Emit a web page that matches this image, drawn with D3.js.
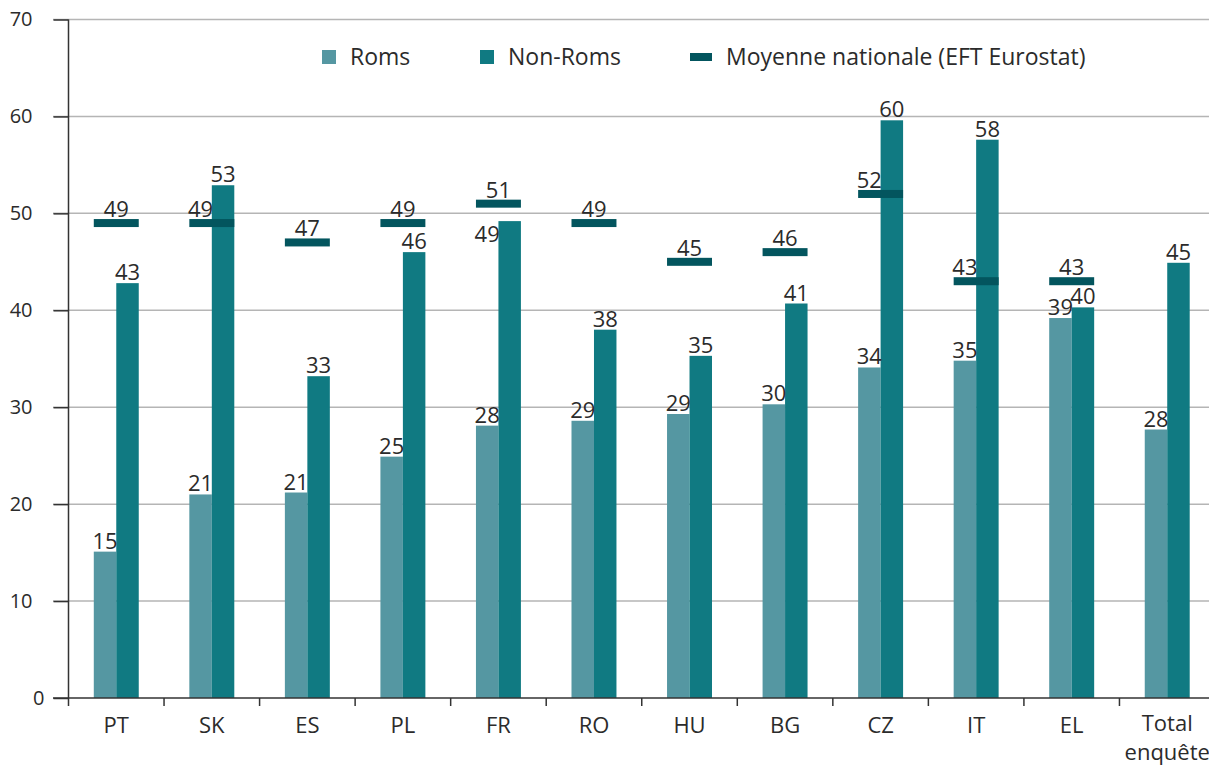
<!DOCTYPE html>
<html>
<head>
<meta charset="utf-8">
<script src="https://cdn.jsdelivr.net/npm/d3@7"></script>
<style>
  body { margin: 0; background: #fff; }
  svg text { font-family: "Open Sans", "Noto Sans", sans-serif; fill: #2b2b2b; }
</style>
</head>
<body>
<div id="wrapper"></div>
<script>
const categories = ["PT", "SK", "ES", "PL", "FR", "RO", "HU", "BG", "CZ", "IT", "EL", "Total enquête"];
const roms = [15.1, 21.0, 21.2, 24.9, 28.1, 28.6, 29.3, 30.3, 34.1, 34.8, 39.2, 27.7];
const nonRoms = [42.8, 52.9, 33.2, 46.0, 49.2, 38.0, 35.3, 40.7, 59.6, 57.6, 40.3, 44.9];
const moyenne = [49, 49, 47, 49, 51, 49, 45, 46, 52, 43, 43, null];
const yTicks = [0, 10, 20, 30, 40, 50, 60, 70];

// label placement tweaks (where the original moved a label aside)
const moyLabelOnRoms = ["SK", "CZ", "IT"];
const nonRomsLabelAside = ["FR"];

const colRoms = "#5597a2";
const colNonRoms = "#107a82";
const colMoy = "#03555e";

const dimension = { width: 1209, height: 765 };
const margin = { left: 68.5, right: -6, top: 19.5, bottom: 67 };

const svg = d3.select("#wrapper").append("svg")
  .attr("width", dimension.width)
  .attr("height", dimension.height);

const scaleY = d3.scaleLinear()
  .domain([0, 70])
  .range([dimension.height - margin.bottom, margin.top]);

const scaleX = d3.scaleBand()
  .domain(categories)
  .range([margin.left, dimension.width - margin.right])
  .padding(0);

const inner = d3.scaleBand()
  .domain(["roms", "nonRoms"])
  .range([0, scaleX.bandwidth()])
  .paddingInner(0)
  .paddingOuter(1.125);

// gridlines
svg.append("g")
  .selectAll("line")
  .data(yTicks.filter(d => d > 0))
  .join("line")
  .attr("x1", 53)
  .attr("x2", dimension.width)
  .attr("y1", d => scaleY(d))
  .attr("y2", d => scaleY(d))
  .attr("stroke", "#b5b5b5")
  .attr("stroke-width", 1.5);

// y axis
const yAxis = svg.append("g")
  .attr("transform", `translate(${margin.left},0)`)
  .call(d3.axisLeft(scaleY).tickValues(yTicks).tickSize(15).tickPadding(0));
yAxis.select(".domain").remove();
yAxis.selectAll(".tick line").attr("stroke", "#333").attr("stroke-width", 1.5);
yAxis.selectAll(".tick text")
  .attr("x", d => d === 0 ? -24 : -36)
  .attr("font-size", 20)
  .attr("fill", "#2b2b2b");

svg.append("line")
  .attr("x1", margin.left).attr("x2", margin.left)
  .attr("y1", scaleY(70)).attr("y2", scaleY(0) + 8)
  .attr("stroke", "#333").attr("stroke-width", 1.5);

// bars
const groups = svg.append("g")
  .selectAll("g")
  .data(categories)
  .join("g")
  .attr("transform", d => `translate(${scaleX(d)},0)`);

groups.append("rect")
  .attr("x", inner("roms"))
  .attr("width", inner.bandwidth())
  .attr("y", (d, i) => scaleY(roms[i]))
  .attr("height", (d, i) => scaleY(0) - scaleY(roms[i]))
  .attr("fill", colRoms);

groups.append("rect")
  .attr("x", inner("nonRoms"))
  .attr("width", inner.bandwidth())
  .attr("y", (d, i) => scaleY(nonRoms[i]))
  .attr("height", (d, i) => scaleY(0) - scaleY(nonRoms[i]))
  .attr("fill", colNonRoms);

// moyenne nationale markers
const moyGroups = groups.filter((d, i) => moyenne[i] != null);
moyGroups.append("rect")
  .attr("x", inner("roms"))
  .attr("width", inner.bandwidth() * 2)
  .attr("y", d => scaleY(moyenne[categories.indexOf(d)]) - 4)
  .attr("height", 8)
  .attr("fill", colMoy);

// x axis
const xAxisY = scaleY(0);
svg.append("line")
  .attr("x1", 53).attr("x2", dimension.width)
  .attr("y1", xAxisY).attr("y2", xAxisY)
  .attr("stroke", "#333").attr("stroke-width", 1.5);

svg.append("g")
  .selectAll("line")
  .data(categories.slice(1))
  .join("line")
  .attr("x1", d => scaleX(d)).attr("x2", d => scaleX(d))
  .attr("y1", xAxisY).attr("y2", xAxisY + 8)
  .attr("stroke", "#333").attr("stroke-width", 1.5);

const xLabels = svg.append("g")
  .selectAll("text")
  .data(categories)
  .join("text")
  .attr("x", d => scaleX(d) + scaleX.bandwidth() / 2)
  .attr("y", xAxisY + 35)
  .attr("text-anchor", "middle")
  .attr("font-size", 22);
xLabels.each(function(d) {
  const parts = d.split(" ");
  const t = d3.select(this);
  if (parts.length > 1) t.attr("y", xAxisY + 33);
  parts.forEach((p, k) => {
    t.append("tspan")
      .attr("x", scaleX(d) + scaleX.bandwidth() / 2)
      .attr("dy", k === 0 ? 0 : 29)
      .text(p);
  });
});

// value labels
const labelSize = 22;
groups.append("text")
  .attr("x", inner("roms") + inner.bandwidth() / 2)
  .attr("y", (d, i) => scaleY(roms[i]) - 3)
  .attr("text-anchor", "middle")
  .attr("font-size", labelSize)
  .text((d, i) => Math.round(roms[i]));

groups.append("text")
  .attr("x", d => nonRomsLabelAside.includes(d)
    ? inner("roms") + inner.bandwidth() / 2
    : inner("nonRoms") + inner.bandwidth() / 2)
  .attr("y", (d, i) => nonRomsLabelAside.includes(d)
    ? scaleY(nonRoms[i]) + 21
    : scaleY(nonRoms[i]) - 3)
  .attr("text-anchor", "middle")
  .attr("font-size", labelSize)
  .text((d, i) => Math.round(nonRoms[i]));

moyGroups.append("text")
  .attr("x", d => moyLabelOnRoms.includes(d)
    ? inner("roms") + inner.bandwidth() / 2
    : inner("roms") + inner.bandwidth())
  .attr("y", d => scaleY(moyenne[categories.indexOf(d)]) - 6)
  .attr("text-anchor", "middle")
  .attr("font-size", labelSize)
  .text(d => moyenne[categories.indexOf(d)]);

// legend
const legendItems = [
  { label: "Roms", color: colRoms, x: 322, w: 14, h: 14 },
  { label: "Non-Roms", color: colNonRoms, x: 480, w: 14, h: 14 },
  { label: "Moyenne nationale (EFT Eurostat)", color: colMoy, x: 690, w: 22, h: 8 }
];
const legend = svg.append("g");
legendItems.forEach(item => {
  legend.append("rect")
    .attr("x", item.x)
    .attr("y", 57 - item.h / 2)
    .attr("width", item.w)
    .attr("height", item.h)
    .attr("fill", item.color);
  legend.append("text")
    .attr("x", item.x + item.w + 14)
    .attr("y", 65)
    .attr("font-size", 23)
    .text(item.label);
});
</script>
</body>
</html>
